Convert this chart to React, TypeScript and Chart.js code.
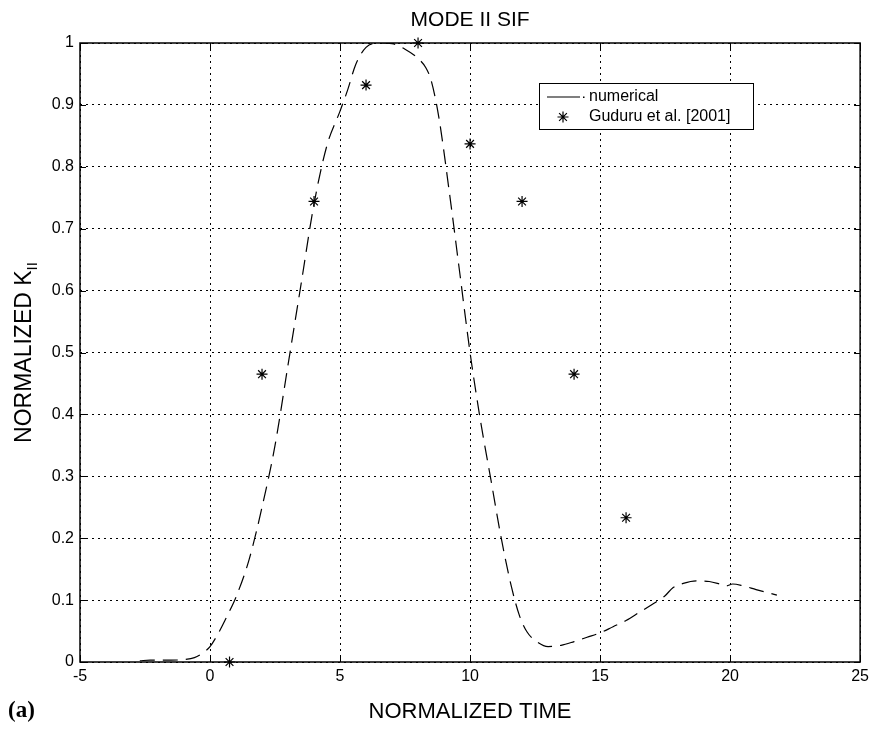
import React, { useEffect, useRef } from "react";
import { Chart, registerables } from "chart.js";

Chart.register(...registerables);

// ---- Data ----
const NUM_X = [-2.7, -2.3, -2.0, -1.5, -1.0, -0.6, -0.3, 0, 0.3, 0.7, 1.0, 1.5, 2.0, 2.5, 3.0, 3.5, 4.0, 4.5, 5.0, 5.3, 5.6, 6.0, 6.5, 7.0, 7.5, 8.0, 8.3, 8.5, 8.8, 9.2, 9.6, 10.0, 10.4, 10.8, 11.2, 11.6, 11.9, 12.2, 12.6, 13.0, 13.5, 14.0, 14.5, 15.0, 15.5, 16.0, 16.5, 17.0, 17.5, 17.8, 18.2, 18.7, 19.2, 19.6, 19.85, 20.1, 20.5, 21.0, 21.8];
const NUM_Y = [0.002, 0.003, 0.003, 0.003, 0.004, 0.007, 0.014, 0.025, 0.045, 0.078, 0.105, 0.165, 0.25, 0.35, 0.48, 0.61, 0.74, 0.835, 0.89, 0.925, 0.965, 0.993, 1.0, 0.999, 0.99, 0.975, 0.96, 0.94, 0.88, 0.76, 0.63, 0.5, 0.39, 0.295, 0.2, 0.12, 0.075, 0.048, 0.032, 0.025, 0.027, 0.033, 0.04, 0.047, 0.057, 0.067, 0.08, 0.093, 0.107, 0.12, 0.127, 0.131, 0.13, 0.126, 0.123, 0.126, 0.123, 0.117, 0.108];

const EXP_X = [0.75, 2, 4, 6, 8, 10, 12, 14, 16];
const EXP_Y = [0, 0.465, 0.744, 0.932, 1.0, 0.837, 0.744, 0.465, 0.233];

const X_TICKS = [-5, 0, 5, 10, 15, 20, 25];
const X_TICK_LABELS = ["-5", "0", "5", "10", "15", "20", "25"];
const Y_TICKS = [0, 0.1, 0.2, 0.3, 0.4, 0.5, 0.6, 0.7, 0.8, 0.9, 1];
const Y_TICK_LABELS = ["0", "0.1", "0.2", "0.3", "0.4", "0.5", "0.6", "0.7", "0.8", "0.9", "1"];

const TITLE = "MODE II SIF";
const X_TITLE = "NORMALIZED TIME";
const Y_TITLE = "NORMALIZED K";
const Y_TITLE_SUB = "II";
const PANEL_LABEL = "(a)";
const LEGEND_LABELS = ["numerical", "Guduru et al. [2001]"];

const FONT = "'Liberation Sans', Arial, Helvetica, sans-serif";

function drawStar(ctx: CanvasRenderingContext2D, x: number, y: number, r: number) {
  ctx.beginPath();
  ctx.moveTo(x - r, y);
  ctx.lineTo(x + r, y);
  ctx.moveTo(x, y - r);
  ctx.lineTo(x, y + r);
  const d = r * Math.SQRT1_2;
  ctx.moveTo(x - d, y - d);
  ctx.lineTo(x + d, y + d);
  ctx.moveTo(x - d, y + d);
  ctx.lineTo(x + d, y - d);
  ctx.stroke();
}

const decorPlugin = {
  id: "decor",
  afterDraw(chart: any) {
    const { ctx, chartArea: a, scales } = chart;
    ctx.save();
    ctx.setLineDash([]);
    ctx.strokeStyle = "#000";
    ctx.fillStyle = "#000";

    // inward tick marks
    ctx.lineWidth = 1;
    const tl = 6;
    const seg = (x1: number, y1: number, x2: number, y2: number) => {
      ctx.beginPath();
      ctx.moveTo(x1, y1);
      ctx.lineTo(x2, y2);
      ctx.stroke();
    };
    X_TICKS.forEach((v) => {
      const x = Math.round(scales.x.getPixelForValue(v)) + 0.5;
      seg(x, a.bottom, x, a.bottom - tl);
      seg(x, a.top, x, a.top + tl);
    });
    Y_TICKS.forEach((v) => {
      const y = Math.round(scales.y.getPixelForValue(v)) + 0.5;
      seg(a.left, y, a.left + tl, y);
      seg(a.right, y, a.right - tl, y);
    });

    // axes box
    ctx.lineWidth = 1.5;
    ctx.strokeRect(a.left, a.top, a.right - a.left, a.bottom - a.top);

    // legend
    const lx = 539, ly = 83, lw = 214, lh = 46;
    ctx.fillStyle = "#fff";
    ctx.fillRect(lx, ly, lw, lh);
    ctx.lineWidth = 1;
    ctx.strokeStyle = "#000";
    ctx.strokeRect(lx + 0.5, ly + 0.5, lw, lh);
    ctx.fillStyle = "#000";
    ctx.lineWidth = 1.2;
    seg(547, 97, 580, 97);
    ctx.fillRect(583, 96.5, 1.5, 1.5);
    ctx.lineWidth = 1.2;
    drawStar(ctx, 563, 117, 5.5);
    ctx.font = `16px ${FONT}`;
    ctx.textAlign = "left";
    ctx.textBaseline = "middle";
    ctx.fillText(LEGEND_LABELS[0], 589, 97);
    ctx.fillText(LEGEND_LABELS[1], 589, 117);

    // titles
    const cx = (a.left + a.right) / 2;
    ctx.font = `21px ${FONT}`;
    ctx.textAlign = "center";
    ctx.textBaseline = "middle";
    ctx.fillText(TITLE, cx, 20);
    ctx.font = `22px ${FONT}`;
    ctx.fillText(X_TITLE, cx, 712);

    // y title with subscript
    ctx.save();
    ctx.translate(25, (a.top + a.bottom) / 2);
    ctx.rotate(-Math.PI / 2);
    ctx.font = `23px ${FONT}`;
    const mainW = ctx.measureText(Y_TITLE).width;
    ctx.font = `15px ${FONT}`;
    const subW = ctx.measureText(Y_TITLE_SUB).width;
    const start = -(mainW + subW) / 2;
    ctx.textAlign = "left";
    ctx.font = `23px ${FONT}`;
    ctx.fillText(Y_TITLE, start, 0);
    ctx.font = `15px ${FONT}`;
    ctx.fillText(Y_TITLE_SUB, start + mainW, 8);
    ctx.restore();

    // panel label
    ctx.font = `bold 23px 'Liberation Serif', 'Times New Roman', serif`;
    ctx.textAlign = "left";
    ctx.textBaseline = "middle";
    ctx.fillText(PANEL_LABEL, 8, 711);

    ctx.restore();
  },
};

export default function App() {
  const ref = useRef<HTMLCanvasElement | null>(null);

  useEffect(() => {
    if (!ref.current) return;
    const numerical = NUM_X.map((x, i) => ({ x, y: NUM_Y[i] }));
    const experiment = EXP_X.map((x, i) => ({ x, y: EXP_Y[i] }));

    const chart = new Chart(ref.current, {
      type: "scatter",
      data: {
        datasets: [
          {
            label: LEGEND_LABELS[0],
            data: numerical,
            showLine: true,
            borderColor: "#000",
            borderWidth: 1.2,
            borderDash: [15, 8],
            pointRadius: 0,
            cubicInterpolationMode: "monotone",
            fill: false,
          } as any,
          {
            label: LEGEND_LABELS[1],
            data: experiment,
            showLine: false,
            pointStyle: "star",
            pointRadius: 5.5,
            borderColor: "#000",
            backgroundColor: "#000",
            pointBorderWidth: 1.2,
            clip: false,
          } as any,
        ],
      },
      options: {
        animation: false,
        responsive: true,
        maintainAspectRatio: false,
        layout: { padding: { left: 0, right: 12, top: 43, bottom: 0 } },
        plugins: {
          legend: { display: false },
          tooltip: { enabled: false },
          title: { display: false },
        },
        scales: {
          x: {
            type: "linear",
            min: -5,
            max: 25,
            afterFit: (s: any) => {
              s.height = 69;
            },
            afterBuildTicks: (s: any) => {
              s.ticks = X_TICKS.map((v) => ({ value: v }));
            },
            ticks: {
              callback: (_v: any, i: number) => X_TICK_LABELS[i],
              color: "#000",
              font: { family: FONT, size: 16 },
              padding: 5,
              maxRotation: 0,
            },
            grid: { color: "#000", lineWidth: 1, drawTicks: false },
            border: { display: false, dash: [2, 4] },
          },
          y: {
            type: "linear",
            min: 0,
            max: 1,
            afterFit: (s: any) => {
              s.width = 80;
            },
            afterBuildTicks: (s: any) => {
              s.ticks = Y_TICKS.map((v) => ({ value: v }));
            },
            ticks: {
              callback: (_v: any, i: number) => Y_TICK_LABELS[i],
              color: "#000",
              font: { family: FONT, size: 16 },
              padding: 6,
            },
            grid: { color: "#000", lineWidth: 1, drawTicks: false },
            border: { display: false, dash: [2, 4] },
          },
        },
      },
      plugins: [decorPlugin],
    });
    return () => chart.destroy();
  }, []);

  return (
    <div style={{ position: "fixed", left: 0, top: 0, width: 874, height: 731, background: "#fff" }}>
      <canvas ref={ref} />
    </div>
  );
}
